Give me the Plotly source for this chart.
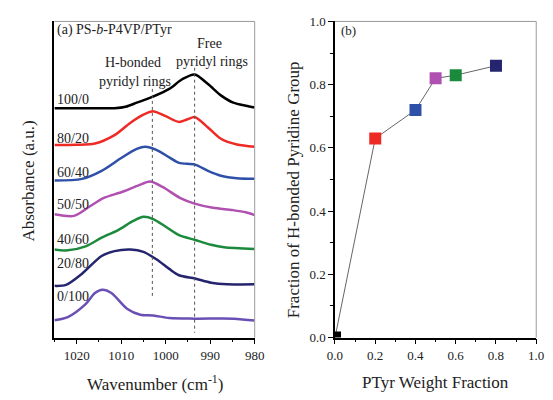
import plotly.graph_objects as go

# ---- FTIR spectra (stacked, a.u.) ----
sample_labels = ["100/0", "80/20", "60/40", "50/50", "40/60", "20/80", "0/100"]
sample_colors = ["#000000", "#ee2a24", "#2f50a8", "#b050b0", "#1b8a3c", "#25246e", "#6a4fb4"]

wn_100_0 = [1025, 1020, 1015, 1011.5, 1009, 1006.5, 1003, 999.2, 996.3, 993.5, 990.5, 987.6, 984.8, 982, 980]
ab_100_0 = [2.38, 2.38, 2.38, 2.38, 2.395, 2.437, 2.497, 2.58, 2.68, 2.73, 2.63, 2.513, 2.437, 2.405, 2.387]

wn_80_20 = [1025, 1020, 1015.9, 1011.5, 1007.9, 1005, 1002.7, 1000, 997, 995.2, 993.4, 990.5, 987.6, 984, 980]
ab_80_20 = [1.997, 2.0, 2.013, 2.10, 2.23, 2.313, 2.347, 2.297, 2.237, 2.263, 2.287, 2.18, 2.063, 2.003, 1.98]

wn_60_40 = [1025, 1018.8, 1014.4, 1010, 1006.5, 1004.6, 1002.1, 999.2, 997, 993.4, 990.5, 987.6, 984, 980]
ab_60_40 = [1.63, 1.647, 1.73, 1.863, 1.957, 1.98, 1.947, 1.87, 1.813, 1.795, 1.73, 1.68, 1.653, 1.647]

wn_50_50 = [1025, 1020.6, 1017, 1014, 1009.7, 1006.1, 1003.5, 1000.7, 996.7, 993.5, 989.4, 985, 982, 980]
ab_50_50 = [1.28, 1.263, 1.363, 1.447, 1.513, 1.58, 1.62, 1.563, 1.447, 1.39, 1.347, 1.323, 1.30, 1.27]

wn_40_60 = [1025, 1022.4, 1018, 1014.4, 1010.8, 1007.2, 1005, 1002.8, 999.9, 997, 993.4, 989.8, 986.9, 980]
ab_40_60 = [0.913, 0.903, 0.947, 1.037, 1.113, 1.213, 1.253, 1.23, 1.147, 1.063, 1.013, 0.963, 0.937, 0.92]

wn_20_80 = [1025, 1022.4, 1018.8, 1014.4, 1011.5, 1007.9, 1005, 1002.1, 999.2, 997, 993.4, 989.8, 986.2, 980]
ab_20_80 = [0.537, 0.547, 0.663, 0.847, 0.897, 0.913, 0.89, 0.813, 0.713, 0.647, 0.613, 0.57, 0.553, 0.553]

wn_0_100 = [1025, 1022, 1018, 1015.9, 1014.2, 1012.2, 1008.6, 1005.7, 1002.8, 999.2, 993.4, 984.7, 980]
ab_0_100 = [0.18, 0.213, 0.347, 0.463, 0.497, 0.463, 0.297, 0.237, 0.23, 0.203, 0.197, 0.197, 0.177]

spectra_wn = [wn_100_0, wn_80_20, wn_60_40, wn_50_50, wn_40_60, wn_20_80, wn_0_100]
spectra_ab = [ab_100_0, ab_80_20, ab_60_40, ab_50_50, ab_40_60, ab_20_80, ab_0_100]
label_y = [2.47, 2.063, 1.713, 1.38, 1.013, 0.77, 0.43]

# reference band positions (dotted guides)
hbond_wn = [1003, 1003]
hbond_y = [2.58, 0.43]
free_wn = [993.5, 993.5]
free_y = [2.80, 0.05]

# ---- H-bonded fraction vs PTyr content ----
ptyr_fraction = [0.0, 0.2, 0.4, 0.5, 0.6, 0.8]
hbond_fraction = [0.0, 0.63, 0.72, 0.82, 0.83, 0.86]
point_colors = ["#000000", "#ee2a24", "#2f50a8", "#b050b0", "#1b8a3c", "#25246e"]

FONT = "Liberation Serif, Times New Roman, serif"
W, H = 553, 400
LEFT_X0 = 48 / W  # left edge of the spectra panel (paper units)

fig = go.Figure()

for wn, ab, col in zip(spectra_wn, spectra_ab, sample_colors):
    fig.add_trace(go.Scatter(x=wn, y=ab, mode="lines",
                             line=dict(color=col, width=2.5, shape="spline", smoothing=0.8),
                             xaxis="x", yaxis="y", showlegend=False, hoverinfo="skip"))

for gx, gy in [(hbond_wn, hbond_y), (free_wn, free_y)]:
    fig.add_trace(go.Scatter(x=gx, y=gy, mode="lines",
                             line=dict(color="#555555", width=1, dash="dot"),
                             xaxis="x", yaxis="y", showlegend=False, hoverinfo="skip"))

fig.add_trace(go.Scatter(x=ptyr_fraction, y=hbond_fraction, mode="lines",
                         line=dict(color="#666666", width=1),
                         xaxis="x2", yaxis="y2", showlegend=False))
fig.add_trace(go.Scatter(x=ptyr_fraction, y=hbond_fraction, mode="markers",
                         marker=dict(symbol="square", size=12, color=point_colors,
                                     line=dict(width=0)),
                         xaxis="x2", yaxis="y2", showlegend=False))

dom_y = [1 - 343.5 / H, 1 - 15 / H]
tickfont = dict(family=FONT, size=13, color="#222222")

fig.update_layout(
    width=W, height=H,
    margin=dict(l=0, r=0, t=0, b=0),
    paper_bgcolor="white", plot_bgcolor="white",
    font=dict(family=FONT, size=14, color="#222222"),
    xaxis=dict(domain=[LEFT_X0, 255 / W], range=[1025, 980], showgrid=False, zeroline=False,
               showline=True, linecolor="black", linewidth=1.5,
               ticks="outside", ticklen=5, tickwidth=1.2, tickcolor="black",
               tick0=1020, dtick=10, tickfont=tickfont,
               minor=dict(ticks="outside", ticklen=3, tickwidth=1, tickcolor="black", tick0=1025, dtick=5)),
    yaxis=dict(domain=dom_y, range=[0, 3.28], showgrid=False, zeroline=False,
               showline=True, linecolor="black", linewidth=1.5,
               showticklabels=False, ticks=""),
    xaxis2=dict(domain=[338 / W, 546 / W], range=[0, 1], anchor="y2", showgrid=False, zeroline=False,
                showline=True, linecolor="black", linewidth=1.5,
                ticks="outside", ticklen=5, tickwidth=1.2, tickcolor="black",
                tick0=0, dtick=0.2, tickformat=".1f", tickfont=tickfont,
                minor=dict(ticks="outside", ticklen=3, tickwidth=1, tickcolor="black", dtick=0.1)),
    yaxis2=dict(domain=dom_y, range=[0, 1], anchor="x2", showgrid=False, zeroline=False,
                showline=True, linecolor="black", linewidth=1.5,
                ticks="outside", ticklen=5, tickwidth=1.2, tickcolor="black",
                tick0=0, dtick=0.2, tickformat=".1f", tickfont=tickfont,
                minor=dict(ticks="outside", ticklen=3, tickwidth=1, tickcolor="black", dtick=0.1)),
)

# light frame on top / right of each panel
for xr, yr in [("x domain", "y domain"), ("x2 domain", "y2 domain")]:
    fig.add_shape(type="line", xref=xr, yref=yr, x0=0, x1=1, y0=1, y1=1,
                  line=dict(color="#9a9a9a", width=1))
    fig.add_shape(type="line", xref=xr, yref=yr, x0=1, x1=1, y0=0, y1=1,
                  line=dict(color="#9a9a9a", width=1))

ann = []
for lab, ly in zip(sample_labels, label_y):
    ann.append(dict(x=LEFT_X0 + 1 / W, y=ly, xref="paper", yref="y", text=lab, showarrow=False,
                    xanchor="left", yanchor="middle", font=dict(size=14)))
ann += [
    dict(x=LEFT_X0 + 1 / W, y=3.19, xref="paper", yref="y", text="(a) PS-<i>b</i>-P4VP/PTyr",
         showarrow=False, xanchor="left", yanchor="middle", font=dict(size=14)),
    dict(x=1007.3, y=2.85, xref="x", yref="y", text="H-bonded", showarrow=False,
         xanchor="center", yanchor="middle"),
    dict(x=1007.0, y=2.66, xref="x", yref="y", text="pyridyl rings", showarrow=False,
         xanchor="center", yanchor="middle"),
    dict(x=990.2, y=3.05, xref="x", yref="y", text="Free", showarrow=False,
         xanchor="center", yanchor="middle"),
    dict(x=989.6, y=2.86, xref="x", yref="y", text="pyridyl rings", showarrow=False,
         xanchor="center", yanchor="middle"),
    dict(x=0.02, y=0.97, xref="x2", yref="y2", text="(b)", showarrow=False,
         xanchor="left", yanchor="middle", font=dict(size=13)),
    # axis titles
    dict(x=21 / W, y=1 - 181 / H, xref="paper", yref="paper", text="Absorbance (a.u.)",
         showarrow=False, textangle=-90, xanchor="center", yanchor="middle", font=dict(size=17)),
    dict(x=152 / W, y=1 - 391 / H, xref="paper", yref="paper", text="Wavenumber (cm<sup>-1</sup>)",
         showarrow=False, xanchor="center", yanchor="middle", font=dict(size=17)),
    dict(x=295 / W, y=1 - 190 / H, xref="paper", yref="paper", text="Fraction of H-bonded Pyridine Group",
         showarrow=False, textangle=-90, xanchor="center", yanchor="middle", font=dict(size=17)),
    dict(x=442 / W, y=1 - 390 / H, xref="paper", yref="paper", text="PTyr Weight Fraction",
         showarrow=False, xanchor="center", yanchor="middle", font=dict(size=17)),
]
fig.update_layout(annotations=ann)

fig.write_html("out.html")
